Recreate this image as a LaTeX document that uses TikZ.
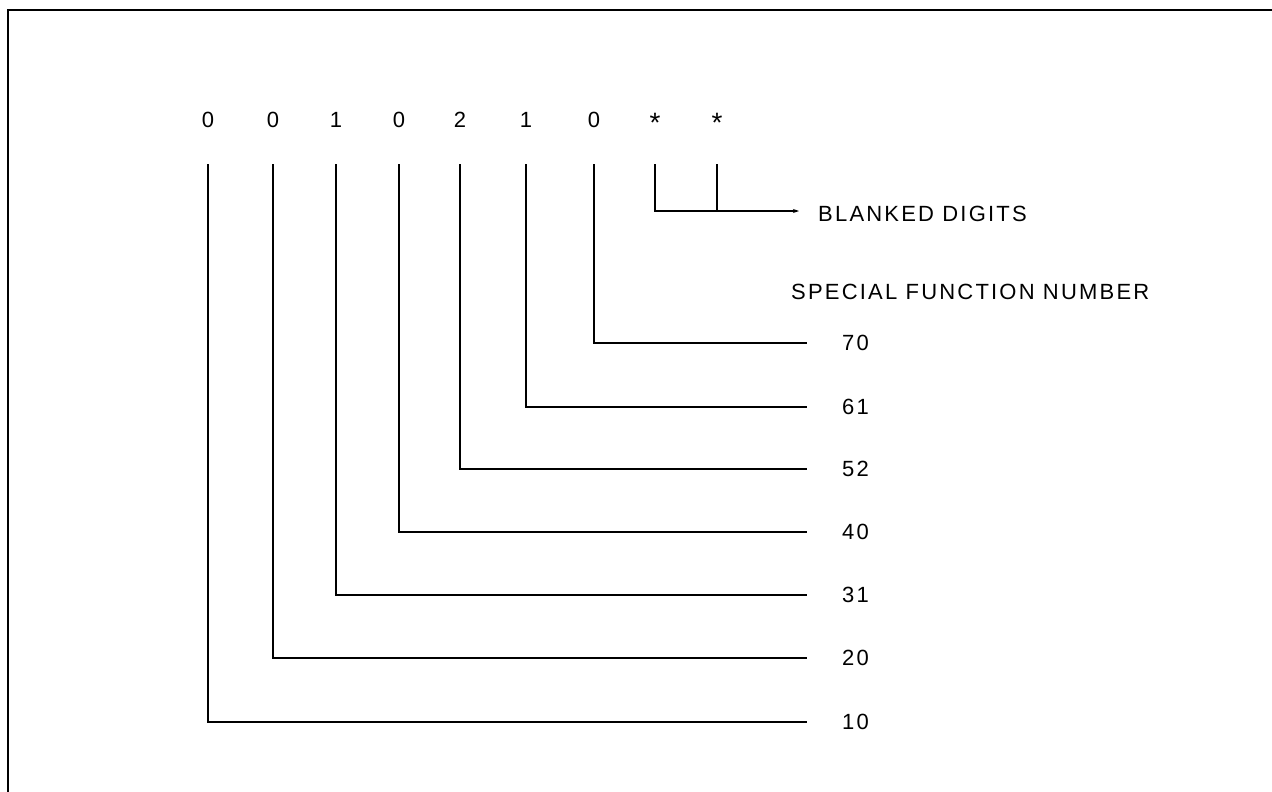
\documentclass[tikz,border=0pt]{standalone}
\usepackage{fontspec}
\setmainfont{Liberation Sans}[LetterSpace=10]
\usetikzlibrary{arrows.meta}
\begin{document}
\begin{tikzpicture}[x=1pt,y=-1pt,
    digit/.style={font=\fontsize{22}{26}\selectfont, inner sep=0pt, anchor=base},
    star/.style={font=\fontsize{28}{30}\selectfont, inner sep=0pt, anchor=base},
    lbl/.style={font=\fontsize{22}{26}\selectfont, inner sep=0pt, anchor=west},
    wire/.style={line width=2.5pt, line join=miter}]
  \useasboundingbox (0,0) rectangle (1272,792);
  % frame edges
  \draw[line width=1.7pt] (8,792) -- (8,10) -- (1272,10);

  % displayed digits
  \foreach \n/\x/\t in {1/208/0,2/273/0,3/336/1,4/399/0,5/460/2,6/526/1,7/594/0}
    \node[digit] (d\n) at (\x,127) {\t};
  \node[star] (d8) at (655,132) {*};
  \node[star] (d9) at (717,132) {*};

  % line starts under each digit
  \foreach \n/\x in {1/208,2/273,3/336,4/399,5/460,6/526,7/594,8/655,9/717}
    \coordinate (t\n) at (\x,164);

  % function number labels and line ends
  \foreach \n/\y/\t in {1/722/10,2/658/20,3/595/31,4/532/40,5/469/52,6/407/61,7/343/70}{
    \node[lbl] (l\n) at (842,\y) {\t};
    \coordinate (e\n) at (807,\y);
  }
  \foreach \n in {1,...,7}
    \draw[wire] (t\n) |- (e\n);

  % blanked digits bracket
  \node[lbl] (bd) at (818,214) {BLANKED DIGITS};
  \coordinate (bj) at (717,211);
  \coordinate (be) at (799,211);
  \draw[wire] (t9) -- (bj);
  \draw[wire, -{Stealth[length=6pt,width=4pt]}] (t8) |- (be);

  \node[lbl] (sfn) at (791,292) {SPECIAL FUNCTION NUMBER};
\end{tikzpicture}
\end{document}
